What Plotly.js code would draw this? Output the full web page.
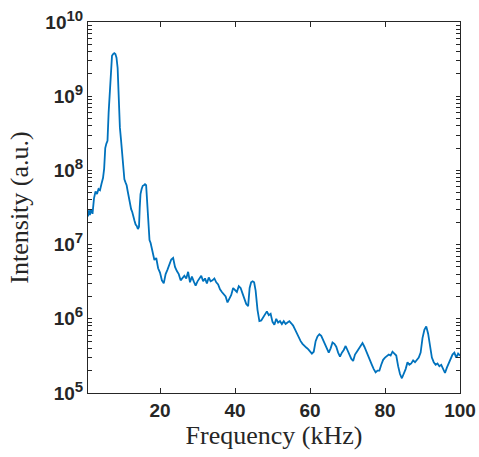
<!DOCTYPE html>
<html>
<head>
<meta charset="utf-8">
<script src="https://cdn.plot.ly/plotly-3.0.1.min.js"></script>
<style>html,body{margin:0;padding:0;background:#fff;}#chart{width:479px;height:457px;}</style>
</head>
<body>
<div id="chart"></div>
<script>
const frequency = [0.8,1.0,1.3,1.6,2.0,2.4,2.8,3.2,3.6,4.0,4.4,4.8,5.1,5.4,5.7,6.0,6.3,6.6,6.9,7.2,7.5,7.8,8.1,8.4,8.7,9.0,9.3,9.6,9.9,10.2,10.5,10.8,11.1,11.4,11.7,12.0,12.3,12.6,12.9,13.2,13.5,13.8,14.1,14.4,14.6,14.8,15.1,15.4,15.7,16.0,16.3,16.6,16.9,17.2,17.5,
18.0,18.5,19.0,19.5,20.0,20.5,21.0,21.5,22.0,22.5,23.0,23.5,24.0,24.5,25.0,25.5,26.0,26.5,27.0,27.5,28.0,28.5,29.0,29.5,30.0,30.5,31.0,31.5,32.0,32.5,33.0,33.5,34.0,34.5,35.0,35.5,36.0,36.5,37.0,37.5,38.0,38.5,39.0,39.5,40.0,40.5,41.0,41.5,42.0,42.5,43.0,43.5,43.9,44.3,44.7,45.1,45.5,46.0,46.5,47.0,47.5,48.0,48.5,49.0,49.5,50.0,50.5,51.0,51.5,52.0,52.5,53.0,53.5,54.0,54.5,55.0,55.5,56.0,56.5,57.0,57.5,58.0,58.5,59.0,59.5,60.0,60.5,61.0,61.5,62.0,62.5,63.0,63.5,64.0,64.5,65.0,65.5,66.0,66.5,67.0,67.5,68.0,68.5,69.0,69.5,70.0,70.5,71.0,71.5,72.0,72.5,73.0,73.5,74.0,74.5,75.0,75.5,76.0,76.5,77.0,77.5,78.0,78.5,79.0,79.5,80.0,80.5,81.0,81.5,82.0,82.5,83.0,83.5,84.0,84.5,85.0,85.5,86.0,86.5,87.0,87.5,88.0,88.5,89.0,89.5,90.0,90.5,91.0,91.5,92.0,92.5,93.0,93.5,94.0,94.5,95.0,95.5,96.0,96.5,97.0,97.5,98.0,98.5,99.0,99.5,100.0];
const intensity = [2.4e7,2.9e7,2.5e7,3.0e7,2.6e7,4.2e7,5.2e7,4.8e7,5.6e7,5.4e7,6.6e7,7.9e7,1.05e8,2.0e8,2.3e8,2.5e8,6.0e8,1.2e9,2.4e9,3.5e9,3.7e9,3.8e9,3.7e9,3.3e9,2.4e9,7.9e8,3.8e8,2.6e8,1.66e8,8.9e7,7.6e7,6.9e7,6.3e7,5.2e7,4.2e7,3.5e7,3.0e7,2.75e7,2.3e7,2.1e7,1.86e7,1.78e7,1.62e7,1.74e7,3.2e7,4.8e7,5.6e7,6.2e7,6.3e7,6.5e7,6.3e7,3.5e7,1.78e7,1.15e7,1.05e7,
7.6e6,6.2e6,6.6e6,4.8e6,4.2e6,3.3e6,3.0e6,4.0e6,4.6e6,5.5e6,6.3e6,6.6e6,5.0e6,4.4e6,4.0e6,3.3e6,3.6e6,3.8e6,3.5e6,4.3e6,3.1e6,3.7e6,3.2e6,2.8e6,3.2e6,3.5e6,3.8e6,3.2e6,3.5e6,3.0e6,3.6e6,3.2e6,3.3e6,3.5e6,3.1e6,2.9e6,2.5e6,2.3e6,2.1e6,2.0e6,1.66e6,1.86e6,2.1e6,2.6e6,2.4e6,2.3e6,2.75e6,2.6e6,2.2e6,1.8e6,1.58e6,1.48e6,2.6e6,3.1e6,3.2e6,3.1e6,2.4e6,1.32e6,9.3e5,9.5e5,1.05e6,1.15e6,1.26e6,1.12e6,1.17e6,9.1e5,8.3e5,1.0e6,8.9e5,9.3e5,8.5e5,9.3e5,8.5e5,8.9e5,9.3e5,8.7e5,8.1e5,7.2e5,6.3e5,5.5e5,5.0e5,4.6e5,4.3e5,4.1e5,3.9e5,3.7e5,3.4e5,3.6e5,5.0e5,5.8e5,6.2e5,5.9e5,5.2e5,4.4e5,3.9e5,3.5e5,4.0e5,4.8e5,4.6e5,4.2e5,3.5e5,3.1e5,3.5e5,3.8e5,4.3e5,3.8e5,3.2e5,2.9e5,2.7e5,3.3e5,3.6e5,3.9e5,4.2e5,4.7e5,4.2e5,3.7e5,3.2e5,2.8e5,2.4e5,2.1e5,1.9e5,2.0e5,2.0e5,2.4e5,2.8e5,3.0e5,3.2e5,3.3e5,3.2e5,3.6e5,3.4e5,3.2e5,2.3e5,1.8e5,1.58e5,1.8e5,2.1e5,2.6e5,2.4e5,2.5e5,2.75e5,2.6e5,2.8e5,3.0e5,3.5e5,5.5e5,7.1e5,7.9e5,6.3e5,4.4e5,3.0e5,2.6e5,2.4e5,2.5e5,2.3e5,2.4e5,2.1e5,1.86e5,2.2e5,2.5e5,2.9e5,3.3e5,3.5e5,3.0e5,3.4e5,3.2e5];
const xTicks = [20,40,60,80,100];
const yTicks = [1e5,1e6,1e7,1e8,1e9,1e10];
const yTickExponents = ['5','6','7','8','9','10'];
const yMinorTicks = [2e5,3e5,4e5,5e5,6e5,7e5,8e5,9e5,2e6,3e6,4e6,5e6,6e6,7e6,8e6,9e6,2e7,3e7,4e7,5e7,6e7,7e7,8e7,9e7,2e8,3e8,4e8,5e8,6e8,7e8,8e8,9e8,2e9,3e9,4e9,5e9,6e9,7e9,8e9,9e9];

const axisColor = '#262626';
const tickFont = {family:'Liberation Sans, Arial, sans-serif', size:19, color:axisColor, weight:'bold'};
const titleFont = {family:'Liberation Serif, Times New Roman, serif', size:26, color:axisColor};

const yAllTicks = yTicks.concat(yMinorTicks);
const yAllText = yTickExponents.map(e => '10<sup><span style="font-size:15px">' + e + '</span></sup>').concat(yMinorTicks.map(() => ''));

Plotly.newPlot('chart', [{
  x: frequency, y: intensity, type:'scatter', mode:'lines',
  line:{color:'#0072BD', width:1.8}, hoverinfo:'skip'
}], {
  width:479, height:457,
  margin:{l:88, r:19, t:22, b:64},
  paper_bgcolor:'#fff', plot_bgcolor:'#fff',
  showlegend:false,
  xaxis:{
    range:[0.8,100], tickvals:xTicks, ticktext:xTicks.map(String),
    ticks:'inside', ticklen:5, tickwidth:1, tickcolor:axisColor,
    showline:true, linecolor:axisColor, linewidth:1, mirror:'ticks',
    showgrid:false, zeroline:false, tickfont:tickFont,
    title:{text:'Frequency (kHz)', font:titleFont, standoff:4}
  },
  yaxis:{
    type:'log', range:[5,10], tickmode:'array', tickvals:yAllTicks, ticktext:yAllText,
    ticks:'inside', ticklen:4, tickwidth:1, tickcolor:axisColor,
    showline:true, linecolor:axisColor, linewidth:1, mirror:'ticks',
    showgrid:false, zeroline:false, tickfont:tickFont,
    title:{text:'Intensity (a.u.)', font:titleFont, standoff:9}
  }
}, {staticPlot:true, displayModeBar:false});
</script>
</body>
</html>
